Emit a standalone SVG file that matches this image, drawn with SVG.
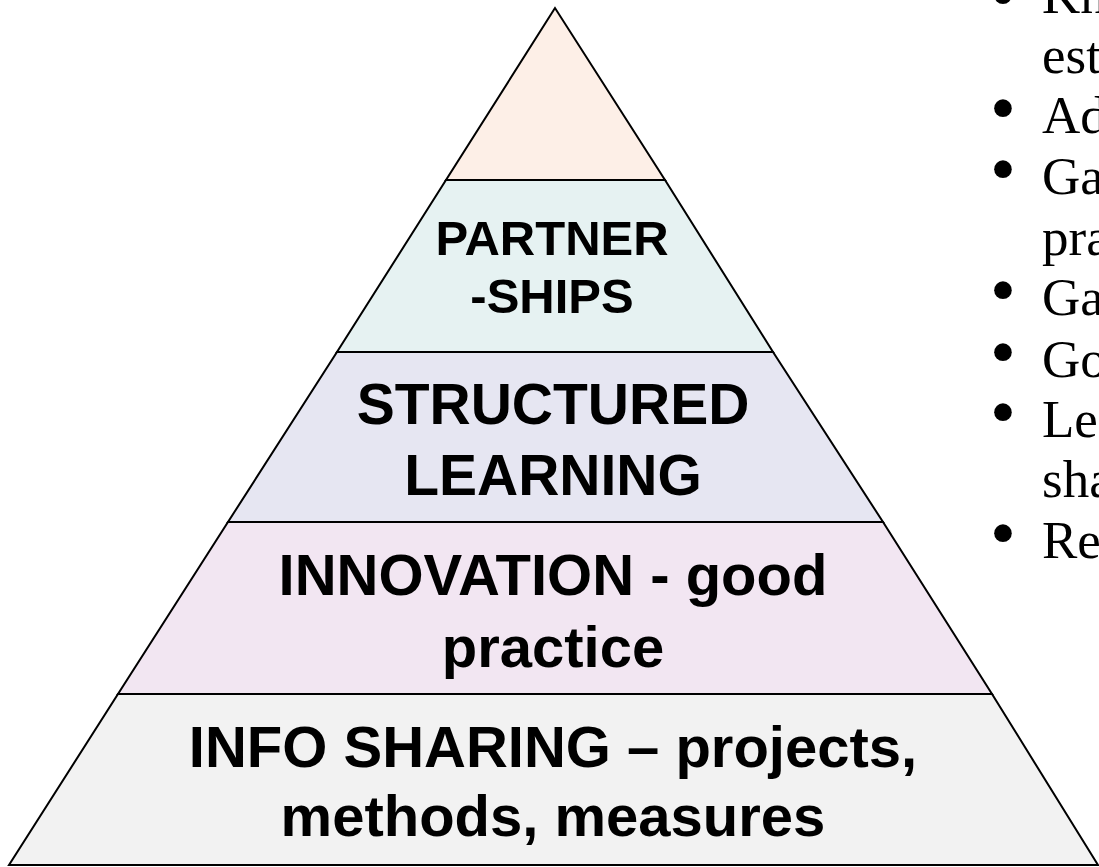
<svg xmlns="http://www.w3.org/2000/svg" width="1099" height="867" viewBox="0 0 1099 867">
<style>
.band{stroke:#000;stroke-width:2;stroke-linejoin:miter}
.lbl{font-family:"Liberation Sans",Arial,sans-serif;font-weight:bold;fill:#000;text-anchor:middle}
.bl{font-family:"Liberation Serif","Times New Roman",serif;font-size:53px;fill:#000}
.dot{font-size:74px}
</style>
<rect width="1099" height="867" fill="#fff"/>
<g id="apex">
<polygon class="band" fill="#FDEFE7" points="555,8 446,180 665,180"/>
</g>
<g id="partnerships">
<polygon class="band" fill="#E6F2F2" points="446,180 665,180 773,352 337,352"/>
<text class="lbl" font-size="49" x="552" y="255">PARTNER</text>
<text class="lbl" font-size="49" x="552" y="313">-SHIPS</text>
</g>
<g id="structured-learning">
<polygon class="band" fill="#E6E6F2" points="337,352 773,352 883,522 228,522"/>
<text class="lbl" font-size="57" x="553" y="424">STRUCTURED</text>
<text class="lbl" font-size="57" x="553" y="495">LEARNING</text>
</g>
<g id="innovation">
<polygon class="band" fill="#F2E6F2" points="228,522 883,522 992,694 118,694"/>
<text class="lbl" font-size="58" x="553" y="595">INNOVATION - good</text>
<text class="lbl" font-size="58" x="553" y="667">practice</text>
</g>
<g id="info-sharing">
<polygon class="band" fill="#F2F2F2" points="118,694 992,694 1098,865 9,865"/>
<text class="lbl" font-size="58" x="553" y="767">INFO SHARING – projects,</text>
<text class="lbl" font-size="58" x="553" y="836">methods, measures</text>
</g>
<g id="connectors"></g>
<g id="bullets">
<text class="bl" y="13"><tspan class="dot" x="990" dy="7">•</tspan><tspan x="1042" dy="-7">Kn</tspan></text>
<text class="bl" x="1042" y="73">est</text>
<text class="bl" y="133"><tspan class="dot" x="990">•</tspan><tspan x="1042">Ad</tspan></text>
<text class="bl" y="194"><tspan class="dot" x="990">•</tspan><tspan x="1042">Ga</tspan></text>
<text class="bl" x="1042" y="255">pra</text>
<text class="bl" y="315"><tspan class="dot" x="990">•</tspan><tspan x="1042">Ga</tspan></text>
<text class="bl" y="377"><tspan class="dot" x="990">•</tspan><tspan x="1042">Go</tspan></text>
<text class="bl" y="437"><tspan class="dot" x="990">•</tspan><tspan x="1042">Lea</tspan></text>
<text class="bl" x="1042" y="497">sha</text>
<text class="bl" y="558"><tspan class="dot" x="990">•</tspan><tspan x="1042">Re</tspan></text>
</g>
</svg>
